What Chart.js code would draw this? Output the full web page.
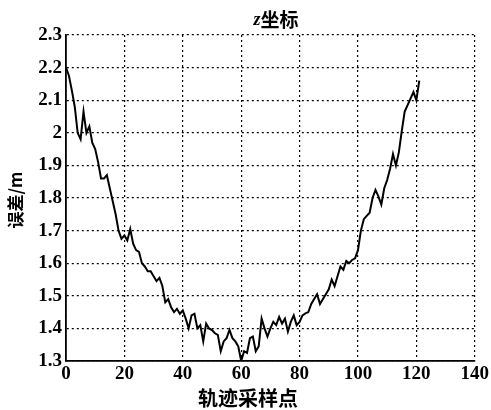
<!DOCTYPE html>
<html>
<head>
<meta charset="utf-8">
<script src="https://cdn.jsdelivr.net/npm/chart.js@4.4.0/dist/chart.umd.min.js"></script>
<style>
  html, body { margin: 0; padding: 0; background: #fff; }
  #wrap { width: 491px; height: 410px; position: relative; }
</style>
</head>
<body>
<div id="wrap"><canvas id="chart"></canvas></div>
<script>
// z coordinate error per trajectory sample
const zError = [
  2.20, 2.175, 2.13, 2.08, 2.00, 1.98, 2.065, 2.00, 2.02, 1.97,
  1.95, 1.91, 1.86, 1.86, 1.87, 1.83, 1.79, 1.75, 1.70, 1.675,
  1.685, 1.67, 1.705, 1.66, 1.64, 1.635, 1.60, 1.59, 1.575, 1.575,
  1.56, 1.545, 1.555, 1.53, 1.48, 1.49, 1.465, 1.45, 1.46, 1.445,
  1.455, 1.43, 1.40, 1.44, 1.445, 1.40, 1.41, 1.36, 1.415, 1.40,
  1.395, 1.385, 1.38, 1.33, 1.36, 1.37, 1.395, 1.37, 1.36, 1.345,
  1.30, 1.33, 1.325, 1.37, 1.375, 1.33, 1.345, 1.43, 1.40, 1.375,
  1.40, 1.42, 1.41, 1.435, 1.415, 1.43, 1.39, 1.42, 1.44, 1.41,
  1.42, 1.44, 1.446, 1.45, 1.475, 1.49, 1.505, 1.475, 1.49, 1.505,
  1.52, 1.55, 1.53, 1.56, 1.59, 1.58, 1.607, 1.60, 1.61, 1.615,
  1.64, 1.70, 1.735, 1.745, 1.755, 1.80, 1.825, 1.805, 1.78, 1.83,
  1.855, 1.89, 1.935, 1.90, 1.94, 2.005, 2.065, 2.085, 2.105, 2.125,
  2.10, 2.16
];
const xRange = [0, 140];
const xStep = 20;
const yRange = [1.3, 2.3];
const yStep = 0.1;

const titleText = '坐标';
const xTitle = '轨迹采样点';
const yTitle = '误差/m';

const tickFont = { family: 'Liberation Serif', size: 19, weight: 'bold' };
const cjkFamily = '"Noto Sans CJK SC", sans-serif';

// titles drawn at fixed spots like the original figure
const labelPlugin = {
  id: 'labels',
  afterDraw(chart) {
    const ctx = chart.ctx;
    ctx.save();
    ctx.fillStyle = '#000';
    ctx.textBaseline = 'middle';

    // title: italic z + CJK
    ctx.font = 'italic bold 18px "Liberation Serif"';
    const zW = ctx.measureText('z').width;
    ctx.font = 'bold 19px ' + cjkFamily;
    const tW = ctx.measureText(titleText).width;
    let tx = 276 - (zW + tW) / 2;
    ctx.textAlign = 'left';
    ctx.font = 'italic bold 18px "Liberation Serif"';
    ctx.fillText('z', tx, 20);
    ctx.font = 'bold 19px ' + cjkFamily;
    ctx.fillText(titleText, tx + zW, 20);

    // x axis title
    ctx.textAlign = 'center';
    ctx.font = 'bold 20px ' + cjkFamily;
    ctx.fillText(xTitle, 248, 398);

    // y axis title
    ctx.translate(16, 200);
    ctx.rotate(-Math.PI / 2);
    ctx.font = 'bold 17px ' + cjkFamily;
    ctx.fillText(yTitle, 0, 0);
    ctx.restore();
  }
};

const bgPlugin = {
  id: 'bg',
  beforeDraw(chart) {
    const ctx = chart.ctx;
    ctx.save();
    ctx.fillStyle = '#fff';
    ctx.fillRect(0, 0, chart.width, chart.height);
    ctx.restore();
  }
};

new Chart(document.getElementById('chart'), {
  type: 'line',
  data: {
    datasets: [{
      data: zError.map((v, i) => ({ x: i, y: v })),
      borderColor: '#000',
      borderWidth: 2,
      pointRadius: 0,
      tension: 0,
      fill: false
    }]
  },
  options: {
    responsive: true,
    maintainAspectRatio: false,
    animation: false,
    layout: { padding: { top: 35, right: 15, left: 0, bottom: 0 } },
    plugins: {
      legend: { display: false },
      tooltip: { enabled: false }
    },
    scales: {
      x: {
        type: 'linear',
        min: xRange[0],
        max: xRange[1],
        afterFit: s => { s.height = 49; },
        ticks: {
          stepSize: xStep,
          color: '#000',
          font: tickFont,
          padding: 2,
          maxRotation: 0
        },
        grid: { color: '#000', lineWidth: 1.2, drawTicks: false },
        // dash applies to the grid lines, the axis line stays solid
        border: { display: true, color: '#000', width: 1.8, dash: [2, 3] }
      },
      y: {
        type: 'linear',
        min: yRange[0],
        max: yRange[1],
        afterFit: s => { s.width = 66; },
        ticks: {
          stepSize: yStep,
          color: '#000',
          font: tickFont,
          padding: 4,
          callback: v => String(+v.toFixed(1))
        },
        grid: { color: '#000', lineWidth: 1.2, drawTicks: false },
        border: { display: true, color: '#000', width: 1.8, dash: [2, 3] }
      }
    }
  },
  plugins: [bgPlugin, labelPlugin]
});
</script>
</body>
</html>
